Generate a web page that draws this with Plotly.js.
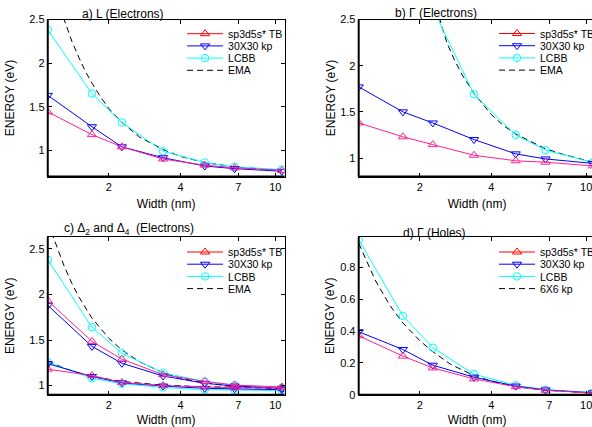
<!DOCTYPE html>
<html><head><meta charset="utf-8">
<script src="https://cdn.plot.ly/plotly-3.0.1.min.js"></script>
<style>html,body{margin:0;padding:0;overflow:hidden;background:#fff}#chart{width:600px;height:427px}</style>
</head><body><div id="chart"></div>
<script>
// ---- data ----
const widths = [1.11, 1.7, 2.27, 3.38, 5.06, 6.75, 10.65];
const xTicks = [2, 4, 7, 10];
const xTickText = ['2', '4', '7', '10'];

// a) L (Electrons)
const a_tb   = [1.44, 1.18, 1.04, 0.90, 0.83, 0.80, 0.77];
const a_kp   = [1.63, 1.27, 1.04, 0.915, 0.82, 0.79, 0.76];
const a_lcbb = [2.38, 1.65, 1.32, 0.99, 0.86, 0.81, 0.78];
const a_ema_w = [1.25, 1.30, 1.40, 1.50, 1.60, 1.70, 1.85, 2.00, 2.27, 2.70, 3.38, 4.00, 5.06, 6.75, 8.50, 10.65];
const a_ema   = [2.63, 2.50, 2.25, 2.06, 1.90, 1.77, 1.61, 1.48, 1.32, 1.15, 1.01, 0.93, 0.86, 0.81, 0.79, 0.77];

// b) Gamma (Electrons)
const b_tb   = [1.38, 1.23, 1.145, 1.03, 0.97, 0.955, 0.915];
const b_kp   = [1.77, 1.50, 1.38, 1.20, 1.045, 0.99, 0.942];
const b_lcbb = [6.8, 3.9, 2.62, 1.69, 1.25, 1.085, 0.952];
const b_ema_w = [2.30, 2.43, 2.60, 2.80, 3.00, 3.38, 4.00, 4.50, 5.06, 6.00, 6.75, 8.00, 9.50, 10.65];
const b_ema   = [2.62, 2.50, 2.25, 2.06, 1.91, 1.70, 1.47, 1.35, 1.26, 1.16, 1.10, 1.04, 0.985, 0.955];

// c) Delta2 and Delta4 (Electrons)
const c_tb_hi   = [1.93, 1.485, 1.29, 1.12, 1.045, 1.005, 0.985];
const c_kp_hi   = [1.88, 1.43, 1.245, 1.105, 1.025, 0.995, 0.97];
const c_lcbb_hi = [2.38, 1.64, 1.355, 1.14, 1.045, 1.005, 0.975];
const c_tb_lo   = [1.18, 1.11, 1.035, 1.0, 0.985, 0.975, 0.975];
const c_kp_lo   = [1.24, 1.10, 1.03, 0.995, 0.97, 0.965, 0.955];
const c_lcbb_lo = [1.255, 1.08, 1.02, 0.98, 0.955, 0.95, 0.945];
const c_ema_hi_w = [1.15, 1.2, 1.3, 1.4, 1.5, 1.7, 2.0, 2.27, 2.7, 3.38, 4.0, 5.06, 6.75, 8.5, 10.65];
const c_ema_hi   = [2.68, 2.55, 2.31, 2.12, 1.97, 1.74, 1.52, 1.39, 1.26, 1.14, 1.08, 1.03, 0.99, 0.975, 0.965];
const c_ema_lo_w = [1.11, 1.3, 1.5, 1.7, 2.27, 3.38, 5.06, 6.75, 10.65];
const c_ema_lo   = [1.27, 1.19, 1.135, 1.10, 1.045, 1.005, 0.987, 0.981, 0.976];

// d) Gamma (Holes)
const d_tb   = [0.37, 0.242, 0.168, 0.099, 0.05, 0.028, 0.01];
const d_kp   = [0.395, 0.284, 0.185, 0.11, 0.054, 0.03, 0.012];
const d_lcbb = [0.972, 0.495, 0.295, 0.129, 0.059, 0.032, 0.013];
const d_66_w = [1.11, 1.3, 1.5, 1.7, 2.0, 2.27, 2.7, 3.38, 4.0, 5.06, 6.75, 10.65];
const d_66   = [0.95, 0.72, 0.56, 0.45, 0.34, 0.27, 0.19, 0.12, 0.085, 0.05, 0.028, 0.01];

const names_el = ['sp3d5s* TB', '30X30 kp', 'LCBB', 'EMA'];
const names_h  = ['sp3d5s* TB', '30X30 kp', 'LCBB', '6X6 kp'];
const titles = ['a) L (Electrons)', 'b) \u0393 (Electrons)',
  'c) \u0394<sub>2</sub> and \u0394<sub>4</sub>\u00a0 (Electrons)', 'd) \u0393 (Holes)'];
const yTickSets = [[1, 1.5, 2, 2.5], [1, 1.5, 2, 2.5], [1, 1.5, 2, 2.5], [0, 0.2, 0.4, 0.6, 0.8]];
const yTickTexts = [['1','1.5','2','2.5'], ['1','1.5','2','2.5'], ['1','1.5','2','2.5'], ['0','0.2','0.4','0.6','0.8']];

// ---- styling / layout ----
const W = 600, H = 427;
const FONT = 'Liberation Sans, Arial, Helvetica, sans-serif';
const PINK = '#ff2090', RED = '#ff0000', BLUE = '#0000ff', CYAN = '#00ffff', BLACK = '#000000';
const fx = p => p / W, fy = p => 1 - p / H;

const panels = [
  {xd: [48, 286],      yd: [19.5, 176.5], yr: [0.7, 2.5],  leg: 'legend',  lx: 183,   ly: 19.2,  tx: 124,   ty: 14,  ys: 12, xs: 7},
  {xd: [360.5, 598.5], yd: [19.5, 176.5], yr: [0.8, 2.5],  leg: 'legend2', lx: 496.7, ly: 19.0,  tx: 438,   ty: 13,  ys: 2,  xs: 7},
  {xd: [48, 286],      yd: [237, 394.7],  yr: [0.9, 2.63], leg: 'legend3', lx: 183,   ly: 237.5, tx: 129.5, ty: 229, ys: 12, xs: 5},
  {xd: [360.5, 598.5], yd: [237, 394.7],  yr: [0, 0.99],   leg: 'legend4', lx: 496.7, ly: 237.5, tx: 437,   ty: 233, ys: 2,  xs: 6}
];

const data = [];
function ax(i) { return i === 0 ? '' : String(i + 1); }
function tr(i, xs, ys, color, symbol, dash, name, showleg) {
  const t = {
    type: 'scatter', x: xs, y: ys, xaxis: 'x' + ax(i), yaxis: 'y' + ax(i),
    mode: symbol ? 'lines+markers' : 'lines', name: name,
    line: {color: color, width: 1, dash: dash || 'solid'},
    showlegend: !!showleg, legend: panels[i].leg, hoverinfo: 'skip'
  };
  if (symbol) t.marker = {symbol: symbol, size: symbol === 'circle-open' ? 7.5 : 8, color: color, line: {width: 1, color: color}};
  data.push(t);
}
const DASH = '6px,4px';
// legend entries (no data, legend only)
for (let i = 0; i < 4; i++) {
  const nm = i === 3 ? names_h : names_el;
  tr(i, [null], [null], RED, 'triangle-up-open', null, nm[0], true);
  tr(i, [null], [null], BLUE, 'triangle-down-open', null, nm[1], true);
  tr(i, [null], [null], CYAN, 'circle-open', null, nm[2], true);
  tr(i, [null], [null], BLACK, null, DASH, nm[3], true);
}
// panel a
tr(0, a_ema_w, a_ema, BLACK, null, DASH, names_el[3]);
tr(0, widths, a_lcbb, CYAN, 'circle-open', null, names_el[2]);
tr(0, widths, a_kp, BLUE, 'triangle-down-open', null, names_el[1]);
tr(0, widths, a_tb, PINK, 'triangle-up-open', null, names_el[0]);
// panel b
tr(1, b_ema_w, b_ema, BLACK, null, DASH, names_el[3]);
tr(1, widths, b_lcbb, CYAN, 'circle-open', null, names_el[2]);
tr(1, widths, b_kp, BLUE, 'triangle-down-open', null, names_el[1]);
tr(1, widths, b_tb, PINK, 'triangle-up-open', null, names_el[0]);
// panel c
tr(2, c_ema_hi_w, c_ema_hi, BLACK, null, DASH, names_el[3]);
tr(2, c_ema_lo_w, c_ema_lo, BLACK, null, DASH, names_el[3]);
tr(2, widths, c_lcbb_hi, CYAN, 'circle-open', null, names_el[2]);
tr(2, widths, c_lcbb_lo, CYAN, 'circle-open', null, names_el[2]);
tr(2, widths, c_kp_hi, BLUE, 'triangle-down-open', null, names_el[1]);
tr(2, widths, c_kp_lo, BLUE, 'triangle-down-open', null, names_el[1]);
tr(2, widths, c_tb_hi, PINK, 'triangle-up-open', null, names_el[0]);
tr(2, widths, c_tb_lo, PINK, 'triangle-up-open', null, names_el[0]);
// panel d
tr(3, d_66_w, d_66, BLACK, null, DASH, names_h[3]);
tr(3, widths, d_lcbb, CYAN, 'circle-open', null, names_h[2]);
tr(3, widths, d_kp, BLUE, 'triangle-down-open', null, names_h[1]);
tr(3, widths, d_tb, PINK, 'triangle-up-open', null, names_h[0]);

const layout = {
  width: W, height: H, margin: {l: 0, r: 0, t: 0, b: 0},
  paper_bgcolor: '#fff', plot_bgcolor: '#fff',
  font: {family: FONT, size: 11, color: '#000'},
  annotations: [], shapes: []
};
const xr = [Math.log10(1.109), Math.log10(10.94)];
panels.forEach((p, i) => {
  const s = ax(i);
  layout['xaxis' + s] = {
    type: 'log', domain: [fx(p.xd[0]), fx(p.xd[1])], range: xr, anchor: 'y' + s,
    tickmode: 'array', tickvals: xTicks, ticktext: xTickText,
    ticks: 'inside', ticklen: 4, tickwidth: 1, tickcolor: '#000',
    showline: true, linecolor: '#000', linewidth: 1, mirror: 'ticks',
    showgrid: false, zeroline: false, automargin: false,
    tickfont: {family: FONT, size: 11, color: '#000'},
    title: {text: 'Width (nm)', font: {family: FONT, size: 12, color: '#000'}, standoff: p.xs}
  };
  layout['yaxis' + s] = {
    domain: [fy(p.yd[1]), fy(p.yd[0])], range: p.yr, anchor: 'x' + s,
    tickmode: 'array', tickvals: yTickSets[i], ticktext: yTickTexts[i],
    ticks: 'inside', ticklen: 4, tickwidth: 1, tickcolor: '#000',
    showline: true, linecolor: '#000', linewidth: 1, mirror: 'ticks',
    showgrid: false, zeroline: false, automargin: false,
    tickfont: {family: FONT, size: 11, color: '#000'},
    title: {text: 'ENERGY (eV)', font: {family: FONT, size: 12, color: '#000'}, standoff: p.ys}
  };
  layout[p.leg] = {
    x: fx(p.lx), y: fy(p.ly), xanchor: 'left', yanchor: 'top',
    bgcolor: 'rgba(0,0,0,0)', borderwidth: 0, itemwidth: 36, tracegroupgap: 0,
    font: {family: FONT, size: 10.5, color: '#000'}
  };
  layout.annotations.push({
    text: titles[i], xref: 'paper', yref: 'paper', x: fx(p.tx), y: fy(p.ty),
    xanchor: 'center', yanchor: 'middle', showarrow: false,
    font: {family: FONT, size: 12, color: '#000'}
  });
  // thick left and bottom frame lines
  const xdom = 'x' + s + ' domain', ydom = 'y' + s + ' domain';
  layout.shapes.push({type: 'line', xref: xdom, yref: ydom, x0: 0, x1: 0, y0: 0, y1: 1, line: {color: '#000', width: 2}, layer: 'above'});
  layout.shapes.push({type: 'line', xref: xdom, yref: ydom, x0: 0, x1: 1, y0: 0, y1: 0, line: {color: '#000', width: 2}, layer: 'above'});
});

const gd = document.getElementById('chart');
Plotly.newPlot(gd, data, layout, {displayModeBar: false, responsive: false}).then(() => {
  // tighten legend row spacing to match the reference
  const SP = 12.2;
  ['legend', 'legend2', 'legend3', 'legend4'].forEach(id => {
    const g = gd.querySelector('g.' + id);
    if (!g) return;
    const items = g.querySelectorAll('g.traces');
    let y0 = null;
    items.forEach((it, k) => {
      const m = /translate\(\s*([-\d.e]+)[ ,]+([-\d.e]+)\s*\)/.exec(it.getAttribute('transform') || '');
      if (!m) return;
      const x = parseFloat(m[1]), y = parseFloat(m[2]);
      if (y0 === null) y0 = y;
      it.setAttribute('transform', 'translate(' + x + ',' + (y0 + k * SP) + ')');
    });
  });
});
</script>
</body></html>
